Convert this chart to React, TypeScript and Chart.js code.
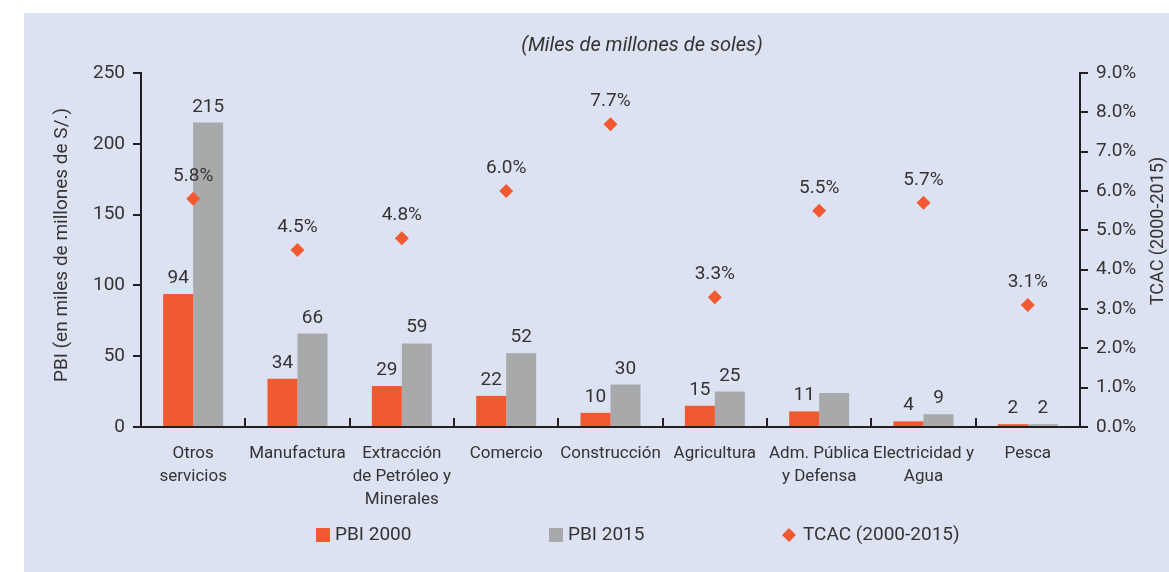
import React, { useEffect, useRef } from "react";
import { Chart, registerables } from "chart.js";

Chart.register(...registerables);

const categories: (string | string[])[] = [
  ["Otros", "servicios"],
  "Manufactura",
  ["Extracción", "de Petróleo y", "Minerales"],
  "Comercio",
  "Construcción",
  "Agricultura",
  ["Adm. Pública", "y Defensa"],
  ["Electricidad y", "Agua"],
  "Pesca",
];
const pbi2000 = [94, 34, 29, 22, 10, 15, 11, 4, 2];
const pbi2015 = [215, 66, 59, 52, 30, 25, 24, 9, 2];
const pbi2015LabelShown = [true, true, true, true, true, true, false, true, true];
const tcac = [5.8, 4.5, 4.8, 6.0, 7.7, 3.3, 5.5, 5.7, 3.1];
const leftAxisMax = 250;
const leftAxisStep = 50;
const rightAxisMax = 9;
const rightAxisStep = 1;

const seriesNames = ["PBI 2000", "PBI 2015", "TCAC (2000-2015)"];
const chartTitle = "(Miles de millones de soles)";
const leftTitle = "PBI (en miles de millones de S/.)";
const rightTitle = "TCAC (2000-2015)";

const ORANGE = "#f15a30";
const GRAY = "#a8a9ab";
const TEXT = "#333333";
const AXIS = "#231f20";
const BG = "#dde2f2";
const FONT = "Roboto, 'Noto Sans', sans-serif";

const overlayPlugin = {
  id: "overlay",
  afterDatasetsDraw(chart: any) {
    const ctx = chart.ctx;
    ctx.save();
    ctx.fillStyle = TEXT;
    ctx.font = `19px ${FONT}`;
    ctx.textAlign = "center";
    ctx.textBaseline = "alphabetic";
    const m0 = chart.getDatasetMeta(0);
    const m1 = chart.getDatasetMeta(1);
    const m2 = chart.getDatasetMeta(2);
    m0.data.forEach((el: any, i: number) => {
      ctx.fillText(String(pbi2000[i]), el.x, el.y - 11);
    });
    m1.data.forEach((el: any, i: number) => {
      if (pbi2015LabelShown[i]) ctx.fillText(String(pbi2015[i]), el.x, el.y - 11);
    });
    m2.data.forEach((el: any, i: number) => {
      ctx.fillText(tcac[i].toFixed(1) + "%", el.x, el.y - 18);
    });
    ctx.restore();
  },
  afterDraw(chart: any) {
    const ctx = chart.ctx;
    const area = chart.chartArea;
    const xs = chart.scales.x;
    ctx.save();
    // inside tick marks between categories
    ctx.strokeStyle = AXIS;
    ctx.lineWidth = 2;
    for (let i = 1; i < categories.length; i++) {
      const x = Math.round((xs.getPixelForValue(i - 1) + xs.getPixelForValue(i)) / 2);
      ctx.beginPath();
      ctx.moveTo(x, area.bottom);
      ctx.lineTo(x, area.bottom - 9);
      ctx.stroke();
    }
    // title
    ctx.fillStyle = TEXT;
    ctx.font = `italic 20px ${FONT}`;
    ctx.textAlign = "center";
    ctx.textBaseline = "middle";
    ctx.fillText(chartTitle, 618, 33);
    // axis titles
    ctx.font = `19px ${FONT}`;
    ctx.save();
    ctx.translate(38, 232);
    ctx.rotate(-Math.PI / 2);
    ctx.fillText(leftTitle, 0, 0);
    ctx.restore();
    ctx.font = `18px ${FONT}`;
    ctx.save();
    ctx.translate(1134, 218);
    ctx.rotate(-Math.PI / 2);
    ctx.fillText(rightTitle, 0, 0);
    ctx.restore();
    // legend
    const legendStart = 292;
    const legendStep = 233;
    const ly = 522;
    ctx.font = `19px ${FONT}`;
    ctx.textAlign = "left";
    ctx.textBaseline = "middle";
    let x0 = legendStart;
    ctx.fillStyle = ORANGE;
    ctx.fillRect(x0, ly - 7, 14, 14);
    ctx.fillStyle = TEXT;
    ctx.fillText(seriesNames[0], x0 + 19, ly);
    x0 = legendStart + legendStep;
    ctx.fillStyle = GRAY;
    ctx.fillRect(x0, ly - 7, 14, 14);
    ctx.fillStyle = TEXT;
    ctx.fillText(seriesNames[1], x0 + 19, ly);
    x0 = legendStart + legendStep * 2;
    ctx.fillStyle = ORANGE;
    ctx.beginPath();
    ctx.moveTo(x0 + 7, ly - 7);
    ctx.lineTo(x0 + 14, ly);
    ctx.lineTo(x0 + 7, ly + 7);
    ctx.lineTo(x0, ly);
    ctx.closePath();
    ctx.fill();
    ctx.fillStyle = TEXT;
    ctx.fillText(seriesNames[2], x0 + 21, ly);
    ctx.restore();
  },
};

export default function App() {
  const ref = useRef<HTMLCanvasElement | null>(null);
  useEffect(() => {
    if (!ref.current) return;
    const chart = new Chart(ref.current, {
      type: "bar",
      data: {
        labels: categories as any,
        datasets: [
          {
            type: "bar",
            label: seriesNames[0],
            data: pbi2000,
            backgroundColor: ORANGE,
            yAxisID: "y",
            categoryPercentage: 0.575,
            barPercentage: 1,
            order: 1,
          },
          {
            type: "bar",
            label: seriesNames[1],
            data: pbi2015,
            backgroundColor: GRAY,
            yAxisID: "y",
            categoryPercentage: 0.575,
            barPercentage: 1,
            order: 1,
          },
          {
            type: "line",
            label: seriesNames[2],
            data: tcac,
            yAxisID: "y1",
            showLine: false,
            pointStyle: "rectRot",
            pointRadius: 7,
            pointHoverRadius: 7,
            backgroundColor: ORANGE,
            borderColor: ORANGE,
            borderWidth: 0,
            order: 0,
          } as any,
        ],
      },
      options: {
        animation: false,
        responsive: true,
        maintainAspectRatio: false,
        layout: { padding: { top: 60, left: 0, right: 0, bottom: 0 } },
        plugins: {
          legend: { display: false },
          title: { display: false },
          tooltip: { enabled: false },
        },
        scales: {
          x: {
            offset: true,
            grid: { display: false },
            border: { display: true, color: AXIS, width: 2 },
            ticks: {
              color: TEXT,
              font: { family: FONT, size: 17, lineHeight: 1.35 },
              padding: 7,
              maxRotation: 0,
              autoSkip: false,
            },
            afterFit: (s: any) => {
              s.height = 145;
            },
          },
          y: {
            position: "left",
            min: 0,
            max: leftAxisMax,
            ticks: {
              stepSize: leftAxisStep,
              color: TEXT,
              font: { family: FONT, size: 19 },
              padding: 8,
            },
            grid: {
              drawOnChartArea: false,
              drawTicks: true,
              tickLength: 8,
              color: AXIS,
              lineWidth: 2,
            },
            border: { display: true, color: AXIS, width: 2 },
            afterFit: (s: any) => {
              s.width = 117;
            },
          },
          y1: {
            position: "right",
            min: 0,
            max: rightAxisMax,
            ticks: {
              stepSize: rightAxisStep,
              color: TEXT,
              font: { family: FONT, size: 19 },
              padding: 8,
              callback: (v: any) => Number(v).toFixed(1) + "%",
            },
            grid: {
              drawOnChartArea: false,
              drawTicks: true,
              tickLength: 8,
              color: AXIS,
              lineWidth: 2,
            },
            border: { display: true, color: AXIS, width: 2 },
            afterFit: (s: any) => {
              s.width = 89;
            },
          },
        },
      },
      plugins: [overlayPlugin],
    });
    return () => chart.destroy();
  }, []);

  return (
    <div
      style={{
        position: "fixed",
        left: 0,
        top: 0,
        width: 1169,
        height: 572,
        background: "#ffffff",
      }}
    >
      <div
        style={{
          position: "absolute",
          left: 24,
          top: 13,
          width: 1145,
          height: 559,
          background: BG,
        }}
      >
        <canvas ref={ref} />
      </div>
    </div>
  );
}
